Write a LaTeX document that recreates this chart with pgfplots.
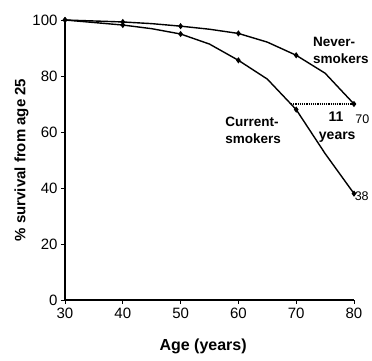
\documentclass[border=0pt]{standalone}
\usepackage{pgfplots}
\pgfplotsset{compat=1.18}
\usepackage{fontspec}
\setmainfont{Liberation Sans}
\begin{document}
\begin{tikzpicture}[x=1pt,y=1pt]
\begin{axis}[
  scale only axis, width=289pt, height=280pt,
  xmin=30, xmax=80, ymin=0, ymax=100,
  axis lines=left, axis line style={-, line width=1.4pt},
  xtick={30,40,...,80}, ytick={0,20,...,100},
  tick align=outside, tick style={black, line width=0.8pt}, major tick length=4pt,
  tick label style={font=\fontsize{15}{15}\selectfont},
  /pgf/number format/assume math mode=true,
  xlabel={\textbf{Age (years)}}, ylabel={\textbf{\% survival from age 25}},
  xlabel style={font=\fontsize{16}{16}\selectfont, at={(axis description cs:0.478,-0.182)}, anchor=base},
  ylabel style={font=\fontsize{15}{15}\selectfont, at={(axis description cs:-0.15,0.5)}, anchor=center},
  clip=false,
]
\addplot[black, line width=1.4pt, mark=diamond*, mark size=2pt,
  mark indices={1,2,4,6,8,10}] coordinates {
 (30,100) (40,99.3) (45,98.7) (50,97.8) (55,96.7) (60,95.2) (65,92.1) (70,87.4) (75,81) (80,70)};
\addplot[black, line width=1.4pt, mark=diamond*, mark size=2pt,
  mark indices={1,2,4,6,8,10}] coordinates {
 (30,100) (40,98.2) (45,96.9) (50,95.0) (55,91.4) (60,85.6) (65,78.9) (70,68) (75,52.3) (80,38)};
\addplot[black, densely dotted, line width=1.2pt] coordinates {(69.1,70) (80,70)};
\node[font=\bfseries\fontsize{13.5}{17}\selectfont, align=left, anchor=north west, inner sep=0pt] at (axis cs:72.9,93.9) {Never-\\smokers};
\node[font=\bfseries\fontsize{13.5}{17}\selectfont, align=left, anchor=north west, inner sep=0pt] at (axis cs:57.7,65.4) {Current-\\smokers};
\node[font=\bfseries\fontsize{14}{14}\selectfont, anchor=base, inner sep=0pt] at (axis cs:76.9,63.6) {11};
\node[font=\bfseries\fontsize{14}{14}\selectfont, anchor=base, inner sep=0pt] at (axis cs:77.1,57.4) {years};
\node[font=\fontsize{12.5}{13}\selectfont, anchor=base west, inner sep=0pt] at (axis cs:80.2,63.0) {70};
\node[font=\fontsize{12.5}{13}\selectfont, anchor=base west, inner sep=0pt] at (axis cs:80.1,35.7) {38};
\end{axis}
\pgfresetboundingbox
\path (-65,-61) rectangle (307,300);
\end{tikzpicture}
\end{document}
